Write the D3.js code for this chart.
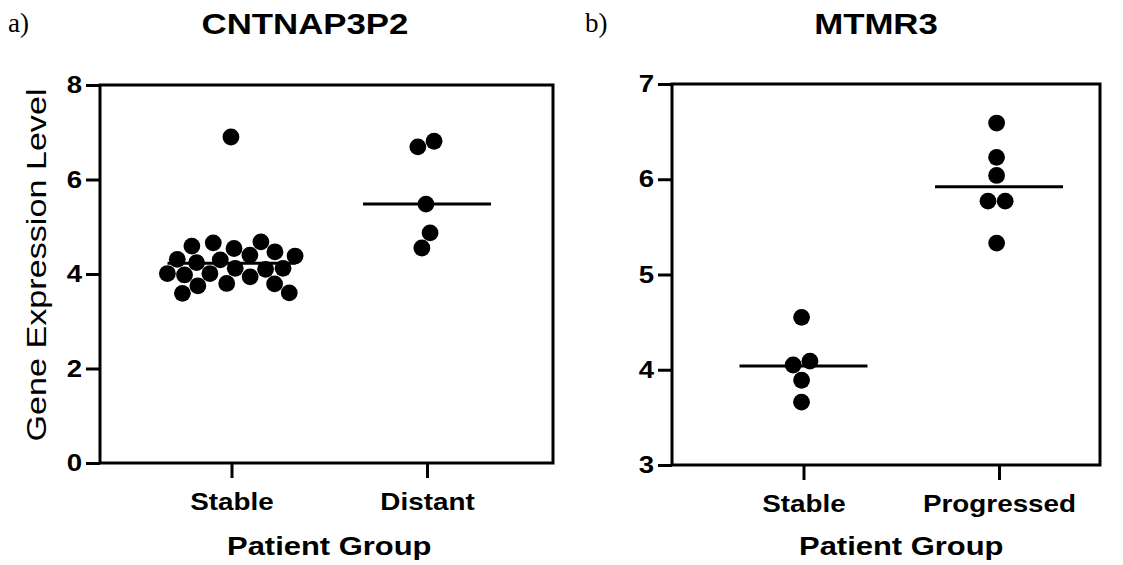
<!DOCTYPE html>
<html>
<head>
<meta charset="utf-8">
<script src="https://cdn.jsdelivr.net/npm/d3@7"></script>
<style>
  body { margin: 0; background: #fff; }
  svg { display: block; }
</style>
</head>
<body>
<svg id="chart" width="1123" height="565"></svg>
<script>
// values
const groupsA = ['Stable', 'Distant']
const stableA = [6.90, 4.66, 4.68, 4.54, 4.59, 4.47, 4.30, 4.24, 4.38, 4.31, 4.40,
  3.94, 3.98, 4.12, 4.01, 4.12, 4.10, 4.01, 3.79, 3.80, 3.75, 3.60, 3.59]
const distantA = [6.81, 6.69, 5.48, 4.87, 4.55]
const mediansA = [4.23, 5.48]
const ticksA = [0, 2, 4, 6, 8]

const groupsB = ['Stable', 'Progressed']
const stableB = [4.55, 4.05, 4.09, 3.89, 3.66]
const progressedB = [6.59, 6.23, 6.04, 5.77, 5.77, 5.33]
const mediansB = [4.04, 5.92]
const ticksB = [3, 4, 5, 6, 7]

const svg = d3.select('#chart')
const SANS = 'Liberation Sans, Arial, Helvetica, sans-serif'
const R = 8.4

// the original figure is a bit wider than it is tall, so the sans text gets stretched
function stretchText (sel, sx) {
  sel.each(function () {
    const t = d3.select(this)
    const x = +t.attr('x') || 0
    const y = +t.attr('y') || 0
    t.attr('x', 0).attr('y', 0).attr('transform', 'translate(' + x + ',' + y + ') scale(' + sx + ',1)')
  })
}

// dots sit at their value, x is found by a small force layout
function swarm (values, cx, y) {
  const nodes = values.map(function (v) { return { v: v, fy: y(v) } })
  const sim = d3.forceSimulation(nodes)
    .force('x', d3.forceX(cx).strength(0.08))
    .force('collide', d3.forceCollide(R + 0.2).iterations(3))
    .stop()
  for (let i = 0; i < 400; i++) sim.tick()
  return nodes
}

function drawPanel (p) {
  const g = svg.append('g')

  const y = d3.scaleLinear().domain(p.yDomain).range([p.bottom, p.top])
  const x = d3.scalePoint().domain(p.groups).range([p.left + 131.5, p.left + 327])

  // frame
  g.append('rect')
    .attr('x', p.left).attr('y', p.top)
    .attr('width', p.right - p.left).attr('height', p.bottom - p.top)
    .attr('fill', 'none').attr('stroke', '#000').attr('stroke-width', 3)

  const yAxis = g.append('g')
    .attr('transform', 'translate(' + p.left + ',0)')
    .call(d3.axisLeft(y).tickValues(p.ticks).tickSize(14).tickPadding(4).tickFormat(d3.format('d')))
  yAxis.select('.domain').remove()
  yAxis.selectAll('line').attr('stroke-width', 3)
  yAxis.selectAll('text')
    .attr('font-family', SANS).attr('font-size', 24).attr('font-weight', 'bold').attr('fill', '#000')
    .call(stretchText, 1.15)

  const xAxis = g.append('g')
    .attr('transform', 'translate(0,' + p.bottom + ')')
    .call(d3.axisBottom(x).tickSize(15).tickPadding(15))
  xAxis.select('.domain').remove()
  xAxis.selectAll('line').attr('stroke-width', 3)
  xAxis.selectAll('text')
    .attr('font-family', SANS).attr('font-size', 24).attr('font-weight', 'bold').attr('fill', '#000')
    .call(stretchText, 1.16)

  // median lines
  g.selectAll('.median')
    .data(p.groups)
    .join('line')
    .attr('class', 'median')
    .attr('x1', function (d) { return x(d) - 64 })
    .attr('x2', function (d) { return x(d) + 64 })
    .attr('y1', function (d, i) { return y(p.medians[i]) })
    .attr('y2', function (d, i) { return y(p.medians[i]) })
    .attr('stroke', '#000').attr('stroke-width', 3)

  p.groups.forEach(function (grp, i) {
    const nodes = swarm(p.values[i], x(grp), y)
    g.append('g').selectAll('circle')
      .data(nodes)
      .join('circle')
      .attr('cx', function (d) { return d.x })
      .attr('cy', function (d) { return d.fy })
      .attr('r', R)
      .attr('fill', '#000')
  })

  // panel letter and title
  g.append('text')
    .attr('x', p.labelX).attr('y', 32)
    .attr('font-family', 'Liberation Serif, Times New Roman, serif').attr('font-size', 27)
    .text(p.label)

  g.append('text')
    .attr('x', p.titleX).attr('y', 34)
    .attr('text-anchor', 'middle')
    .attr('font-family', SANS).attr('font-size', 29).attr('font-weight', 'bold')
    .text(p.title)
    .call(stretchText, 1.2)

  g.append('text')
    .attr('x', (x(p.groups[0]) + x(p.groups[1])) / 2).attr('y', 555)
    .attr('text-anchor', 'middle')
    .attr('font-family', SANS).attr('font-size', 26).attr('font-weight', 'bold')
    .text('Patient Group')
    .call(stretchText, 1.19)
}

drawPanel({
  label: 'a)', title: 'CNTNAP3P2', labelX: 8, titleX: 305,
  groups: groupsA, values: [stableA, distantA], medians: mediansA,
  yDomain: [0, 8], ticks: ticksA,
  left: 100, right: 553, top: 85, bottom: 463
})

drawPanel({
  label: 'b)', title: 'MTMR3', labelX: 585, titleX: 876,
  groups: groupsB, values: [stableB, progressedB], medians: mediansB,
  yDomain: [3, 7], ticks: ticksB,
  left: 672, right: 1100, top: 84, bottom: 465
})

// y title only on the left panel
svg.append('text')
  .attr('transform', 'translate(46,265) rotate(-90) scale(1.22,1)')
  .attr('text-anchor', 'middle')
  .attr('font-family', SANS).attr('font-size', 28)
  .text('Gene Expression Level')
</script>
</body>
</html>
